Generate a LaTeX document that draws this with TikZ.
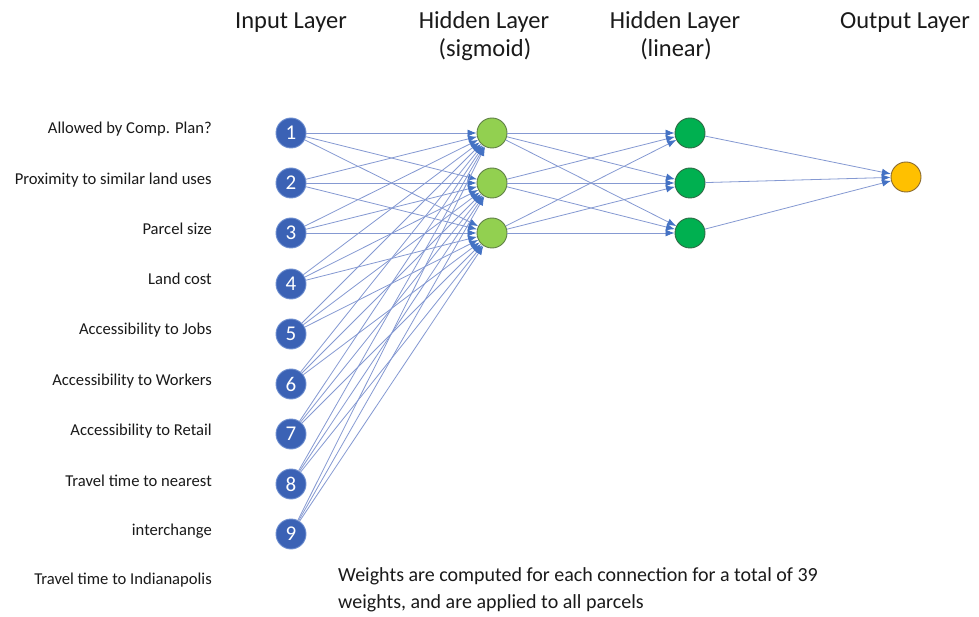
\documentclass[tikz,border=0pt]{standalone}
\usepackage{fontspec}
\setmainfont{Carlito}
\usetikzlibrary{arrows.meta}
\definecolor{inblue}{HTML}{3B62B5}
\definecolor{inborder}{HTML}{6F8FD0}
\definecolor{sigfill}{HTML}{92D050}
\definecolor{sigborder}{HTML}{5F7F45}
\definecolor{linfill}{HTML}{00B050}
\definecolor{linborder}{HTML}{2F6B45}
\definecolor{outfill}{HTML}{FFC000}
\definecolor{outborder}{HTML}{8A6A30}
\definecolor{edgecol}{HTML}{8599D2}
\definecolor{tipcol}{HTML}{4472C4}
\definecolor{txt}{HTML}{1A1A1A}
\tikzset{
  neuron/.style={circle, minimum size=30pt, inner sep=0pt, line width=0.9pt},
  innode/.style={neuron, fill=inblue, draw=inborder, text=white, font=\fontsize{21}{21}\selectfont},
  signode/.style={neuron, fill=sigfill, draw=sigborder},
  linnode/.style={neuron, fill=linfill, draw=linborder},
  outnode/.style={neuron, fill=outfill, draw=outborder},
  conn/.style={draw=edgecol, line width=0.8pt, -{Latex[length=9pt,width=7pt,color=tipcol]}},
  featlabel/.style={anchor=east, inner sep=0pt, text=txt, font=\fontsize{16.6}{18}\selectfont},
  header/.style={anchor=base, inner sep=0pt, text=txt, font=\fontsize{24.5}{28}\selectfont},
}
\begin{document}
\begin{tikzpicture}[x=1pt,y=-1pt]
\useasboundingbox[fill=white] (0,0) rectangle (979,617);
% input nodes
\foreach \i/\yy in {1/133,2/183,3/233,4/284,5/334,6/384,7/434,8/484,9/534}
  \node[innode] (in\i) at (291,\yy) {\i};
\node[signode] (s1) at (492,133) {};
\node[signode] (s2) at (492,183) {};
\node[signode] (s3) at (492,233) {};
\node[linnode] (l1) at (690,133) {};
\node[linnode] (l2) at (690,183) {};
\node[linnode] (l3) at (690,233) {};
\node[outnode] (o) at (906,177) {};
% connections
\foreach \i in {1,...,9}
  \foreach \j in {1,2,3}
    \draw[conn] (in\i) -- (s\j);
\foreach \i in {1,2,3}
  \foreach \j in {1,2,3}
    \draw[conn] (s\i) -- (l\j);
\foreach \i in {1,2,3}
  \draw[conn] (l\i) -- (o);
% labels
\node[featlabel] (f1) at (212,129) {Allowed by Comp. Plan?};
\node[featlabel] (f2) at (212,180) {Proximity to similar land uses};
\node[featlabel] (f3) at (212,229) {Parcel size};
\node[featlabel] (f4) at (212,279) {Land cost};
\node[featlabel] (f5) at (212,330) {Accessibility to Jobs};
\node[featlabel] (f6) at (212,381) {Accessibility to Workers};
\node[featlabel] (f7) at (212,431) {Accessibility to Retail};
\node[featlabel] (f8) at (212,481) {Travel time to nearest};
\node[featlabel] (f9) at (212,531) {interchange};
\node[featlabel] (f10) at (212,580) {Travel time to Indianapolis};
% headers
\node[header] (h1) at (291,29) {Input Layer};
\node[header] (h2a) at (484,29) {Hidden Layer};
\node[header] (h2b) at (485,57) {(sigmoid)};
\node[header] (h3a) at (675,29) {Hidden Layer};
\node[header] (h3b) at (676,57) {(linear)};
\node[header] (h4) at (905,29) {Output Layer};
% bottom note
\node[anchor=base west, inner sep=0pt, text=txt, font=\fontsize{20}{28}\selectfont] (note1) at (338,581) {Weights are computed for each connection for a total of 39};
\node[anchor=base west, inner sep=0pt, text=txt, font=\fontsize{20}{28}\selectfont] (note2) at (338,608) {weights, and are applied to all parcels};
\end{tikzpicture}
\end{document}
